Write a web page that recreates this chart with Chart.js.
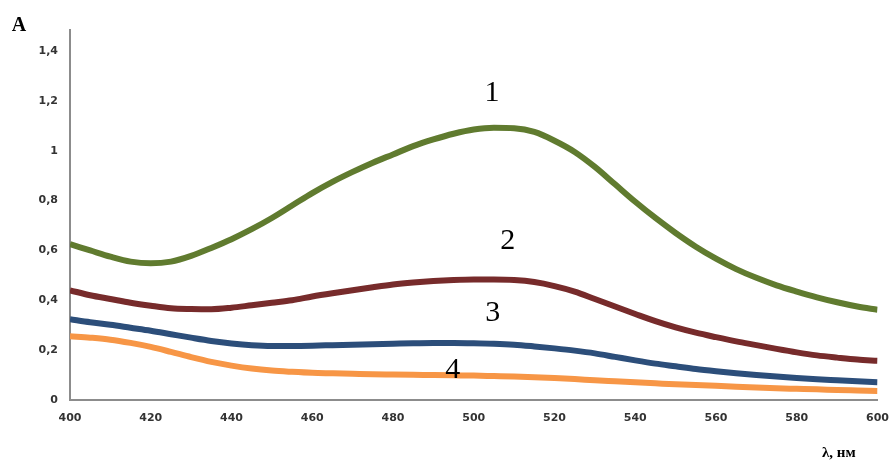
<!DOCTYPE html>
<html>
<head>
<meta charset="utf-8">
<script src="https://cdn.jsdelivr.net/npm/chart.js@4"></script>
<style>
  html, body { margin: 0; padding: 0; background: #fff; }
  #wrap { width: 893px; height: 461px; position: relative; }
</style>
</head>
<body>
<div id="wrap"><canvas id="chartSpectra"></canvas></div>
<script>
// wavelength, nm
const wavelengths = [400, 405, 410, 415, 420, 425, 430, 435, 440, 445, 450, 455, 460, 465, 470, 475, 480, 485, 490, 495,
    500, 505, 510, 515, 520, 525, 530, 535, 540, 545, 550, 555, 560, 565, 570, 575, 580, 585, 590, 595, 600];

const curve1 = [0.625, 0.60, 0.575, 0.555, 0.548, 0.555, 0.578, 0.61, 0.645, 0.685, 0.73, 0.78, 0.83, 0.875, 0.915, 0.952, 0.985, 1.018, 1.045, 1.068,
    1.085, 1.092, 1.09, 1.075, 1.04, 0.995, 0.935, 0.865, 0.795, 0.73, 0.67, 0.615, 0.567, 0.525, 0.49, 0.46, 0.435, 0.412, 0.392, 0.375, 0.362];
const curve2 = [0.44, 0.42, 0.405, 0.39, 0.378, 0.368, 0.365, 0.364, 0.37, 0.38, 0.39, 0.40, 0.415, 0.428, 0.44, 0.452, 0.463, 0.471, 0.477, 0.481,
    0.483, 0.483, 0.481, 0.473, 0.457, 0.435, 0.405, 0.375, 0.345, 0.316, 0.291, 0.27, 0.252, 0.235, 0.22, 0.205, 0.191, 0.179, 0.17, 0.162, 0.157];
const curve3 = [0.324, 0.312, 0.302, 0.29, 0.278, 0.264, 0.25, 0.237, 0.227, 0.22, 0.217, 0.217, 0.218, 0.22, 0.222, 0.224, 0.226, 0.228, 0.229, 0.229,
    0.228, 0.226, 0.222, 0.215, 0.207, 0.198, 0.187, 0.173, 0.159, 0.146, 0.135, 0.124, 0.115, 0.107, 0.1, 0.094, 0.088, 0.083, 0.079, 0.075, 0.071];
const curve4 = [0.256, 0.25, 0.242, 0.229, 0.213, 0.193, 0.172, 0.153, 0.138, 0.126, 0.118, 0.113, 0.109, 0.107, 0.105, 0.103, 0.102, 0.101, 0.1, 0.099,
    0.098, 0.096, 0.094, 0.091, 0.088, 0.084, 0.079, 0.075, 0.071, 0.067, 0.063, 0.06, 0.057, 0.053, 0.05, 0.047, 0.045, 0.043, 0.04, 0.038, 0.036];

const curveNames = ['1', '2', '3', '4'];
// where the curve numbers sit, in data units (nm, A)
const nameSpots = [[504.5, 1.232], [508.4, 0.636], [504.7, 0.348], [494.8, 0.12]];

const pts = arr => arr.map((v, i) => ({ x: wavelengths[i], y: v }));

const lineStyle = {
    borderWidth: 6,
    pointRadius: 0,
    fill: false,
    cubicInterpolationMode: 'monotone'
};

// labels "A", "λ, нм" and curve numbers
const textPlugin = {
    id: 'textPlugin',
    afterDraw(chart) {
        const ctx = chart.ctx;
        const xs = chart.scales.x, ys = chart.scales.y;
        ctx.save();
        ctx.fillStyle = '#000';
        ctx.textAlign = 'center';
        ctx.textBaseline = 'middle';
        ctx.font = '30px "Liberation Serif"';
        curveNames.forEach((n, i) => {
            ctx.fillText(n, xs.getPixelForValue(nameSpots[i][0]), ys.getPixelForValue(nameSpots[i][1]));
        });
        ctx.font = 'bold 20px "Liberation Serif"';
        ctx.fillText('A', 19, 26);
        ctx.textAlign = 'left';
        ctx.font = 'bold 15px "Liberation Serif"';
        ctx.fillText('λ, нм', 822, 453);
        ctx.restore();
    }
};

const chartSpectra = document.querySelector('#chartSpectra').getContext('2d');

new Chart(chartSpectra, {
    type: 'line',
    data: {
        datasets: [
            { label: '1', data: pts(curve1), borderColor: '#607B2F', ...lineStyle },
            { label: '2', data: pts(curve2), borderColor: '#772B2B', ...lineStyle },
            { label: '3', data: pts(curve3), borderColor: '#2C4E7A', ...lineStyle },
            { label: '4', data: pts(curve4), borderColor: '#F79646', ...lineStyle }
        ]
    },
    options: {
        responsive: true,
        maintainAspectRatio: false,
        animation: false,
        layout: { padding: { top: 30, right: 15, left: 0, bottom: 0 } },
        plugins: {
            legend: { display: false },
            tooltip: { enabled: false }
        },
        scales: {
            x: {
                type: 'linear',
                min: 400,
                max: 600,
                grid: { display: false },
                border: { display: true, color: '#8c8c8c', width: 2 },
                ticks: {
                    stepSize: 20,
                    color: '#333',
                    padding: 4,
                    maxRotation: 0,
                    font: { family: 'DejaVu Sans', size: 11, weight: 'bold' }
                },
                afterFit(scale) { scale.height = 61; }
            },
            y: {
                min: 0,
                max: 1.484,
                grid: { display: false },
                border: { display: true, color: '#8c8c8c', width: 2 },
                ticks: {
                    stepSize: 0.2,
                    includeBounds: false,
                    color: '#333',
                    padding: 4,
                    font: { family: 'DejaVu Sans', size: 11, weight: 'bold' },
                    callback: v => v === 0 ? '0' : (Math.round(v * 10) / 10).toString().replace('.', ',')
                },
                afterFit(scale) { scale.width = 70; }
            }
        }
    },
    plugins: [textPlugin]
});
</script>
</body>
</html>
